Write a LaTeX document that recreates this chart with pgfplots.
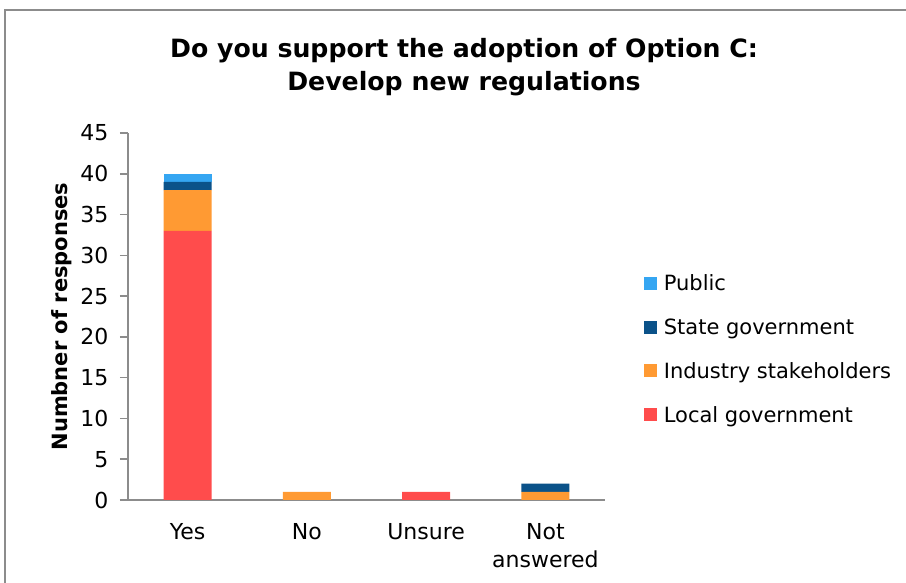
\documentclass[border=0pt]{standalone}
\usepackage{pgfplots}
\pgfplotsset{compat=1.18}
\usepackage{fontspec}
\setmainfont{DejaVu Sans}
\definecolor{cPublic}{HTML}{35A6F2}
\definecolor{cState}{HTML}{0B5289}
\definecolor{cIndustry}{HTML}{FF9A33}
\definecolor{cLocal}{HTML}{FF4C4C}
\definecolor{axgray}{HTML}{8C8C8C}
\begin{document}
\begin{tikzpicture}[x=1pt,y=1pt]
\useasboundingbox (0,0) rectangle (906,583);
\draw[axgray, line width=1.5pt] (5,-20) -- (5,573) -- (930,573);
\node[align=center, font=\fontsize{25.2}{33}\selectfont\bfseries] at (464,516)
  {Do you support the adoption of Option C:\\Develop new regulations};
\begin{axis}[
  at={(128pt,83pt)}, anchor=south west,
  scale only axis, width=477pt, height=367pt,
  ybar stacked, bar width=48pt,
  xmin=-0.5, xmax=3.5, ymin=0, ymax=45,
  ytick={0,5,...,45},
  xtick={0,1,2,3},
  xticklabels={Yes,No,Unsure,Not\\answered},
  xticklabel style={align=center, font=\fontsize{22}{28}\selectfont, yshift=-12pt},
  yticklabel style={font=\fontsize{22}{26}\selectfont, xshift=-8pt},
  /pgf/number format/assume math mode=true,
  major x tick style={draw=none},
  extra x ticks={-0.5,0.5,1.5,2.5,3.5},
  extra x tick labels={},
  extra x tick style={major tick length=8pt, tick style={axgray, line width=1.5pt}, xtick align=outside},
  tick align=outside,
  major tick length=8pt,
  ytick style={axgray, line width=1.5pt},
  axis x line*=bottom, axis y line*=left,
  axis line style={axgray, line width=1.5pt, -},
  ylabel={Numbner of responses},
  ylabel style={font=\fontsize{21}{25}\selectfont\bfseries, at={(ticklabel cs:0.5)}, anchor=south, xshift=0pt, yshift=2pt},
  legend style={at={(1.081,0.62)}, anchor=north west, draw=none, fill=none,
    font=\fontsize{21}{25}\selectfont, row sep=22.5pt, inner sep=0pt},
  legend cell align=left,
  reverse legend,
  legend image code/.code={\fill[#1] (0pt,-6.5pt) rectangle (13pt,6.5pt); \path (18pt,0pt);},
  clip=false,
]
\addplot[fill=cLocal, draw=none] coordinates {(0,33) (1,0) (2,1) (3,0)};
\addlegendentry{Local government}
\addplot[fill=cIndustry, draw=none] coordinates {(0,5) (1,1) (2,0) (3,1)};
\addlegendentry{Industry stakeholders}
\addplot[fill=cState, draw=none] coordinates {(0,1) (1,0) (2,0) (3,1)};
\addlegendentry{State government}
\addplot[fill=cPublic, draw=none] coordinates {(0,1) (1,0) (2,0) (3,0)};
\addlegendentry{Public}
\end{axis}
\end{tikzpicture}
\end{document}
